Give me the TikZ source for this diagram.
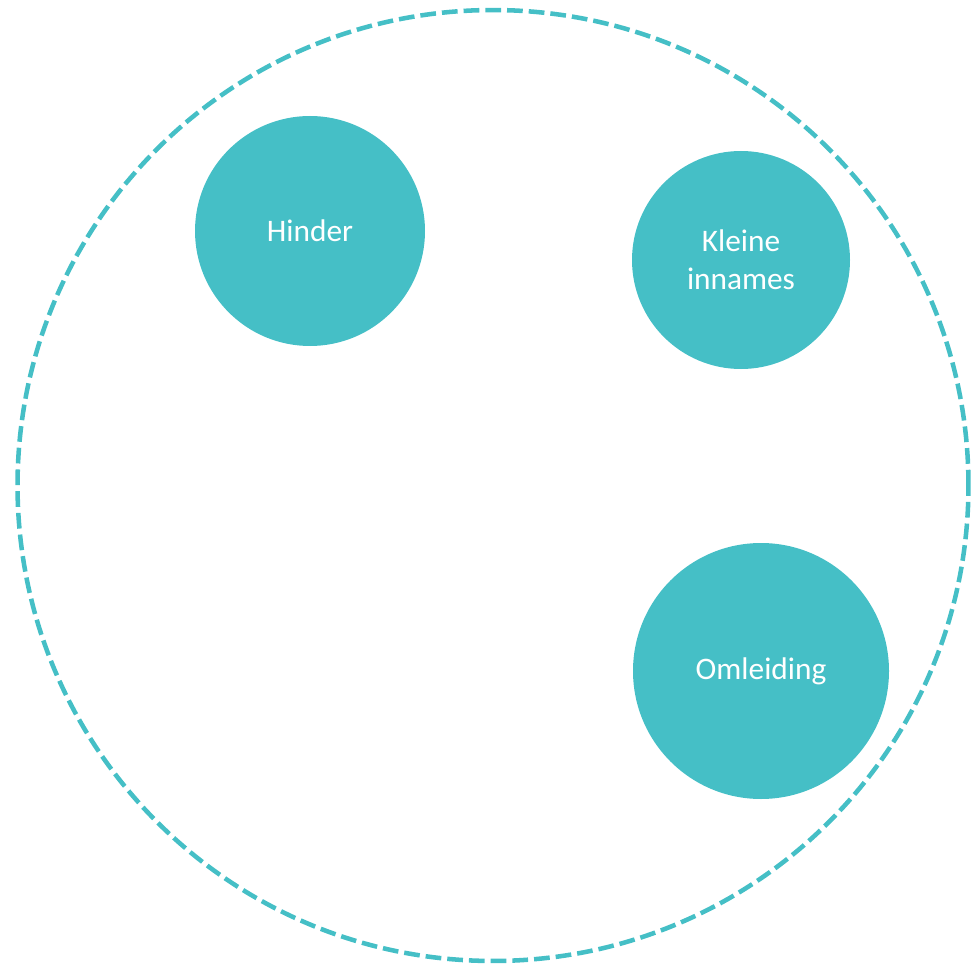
\documentclass[tikz,border=0pt]{standalone}
\usepackage{fontspec}
\setmainfont{Carlito}
\definecolor{bubblefill}{HTML}{45BFC6}
\tikzset{>=stealth,
  bubble/.style={circle, fill=bubblefill, text=white, align=center, inner sep=0pt,
    font=\fontsize{23.5}{28.5}\selectfont},
  outerring/.style={draw=bubblefill, line width=3.4pt, dash pattern=on 11.8pt off 4.5pt}}

\begin{document}
\begin{tikzpicture}[x=0.75pt, y=-0.75pt]
    \useasboundingbox (0,0) rectangle (971,966);
    \draw[outerring] (493,485.5) circle [radius=356.6pt];
    \node[bubble, minimum size=172.5pt] (hinder) at (310,231) {Hinder};
    \node[bubble, minimum size=163.5pt] (innames) at (741,260) {Kleine\\innames};
    \node[bubble, minimum size=192pt] (omleiding) at (761,671) {Omleiding};
\end{tikzpicture}
\end{document}
